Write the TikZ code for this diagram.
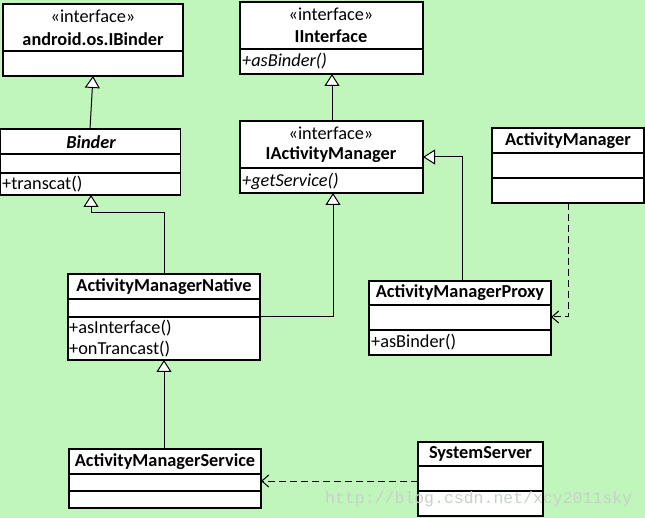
\documentclass[tikz,border=0pt]{standalone}
\usepackage{fontspec}
\setmainfont{Carlito}
\newfontfamily\wmfont{Liberation Mono}
\usetikzlibrary{arrows.meta,calc}
\definecolor{bgc}{RGB}{192,246,188}
\definecolor{wmc}{RGB}{198,210,198}
\begin{document}
\begin{tikzpicture}[x=1pt,y=-1pt,
  cls/.style={draw=black, fill=white, line width=1.1pt, anchor=north west, inner sep=0pt, outer sep=0pt},
  sepline/.style={line width=1.1pt},
  txt/.style={inner sep=0pt, font=\fontsize{18.3}{20}\selectfont},
  nm/.style={txt, font=\fontsize{18.3}{20}\selectfont\bfseries},
  mem/.style={txt, anchor=west},
  conn/.style={line width=1pt},
  gen/.style={conn, -{Triangle[length=12pt,width=15pt,fill=white]}},
  dep/.style={conn, dash pattern=on 7pt off 4pt, -{Straight Barb[length=7pt,width=12pt]}}
]
\fill[bgc] (0,0) rectangle (645,518);
\useasboundingbox (0,0) rectangle (645,518);

% android.os.IBinder
\node[cls, minimum width=180pt, minimum height=72pt] (ib) at (3,4) {};
\draw[sepline] (3,51) -- (183,51);
\node[txt] (ibs) at (93,16) {«interface»};
\node[nm] (ibn) at (93,39) {android.os.IBinder};

% IInterface
\node[cls, minimum width=183pt, minimum height=72pt] (ii) at (240,2) {};
\draw[sepline] (240,49) -- (423,49);
\node[txt] (iis) at (331,14) {«interface»};
\node[nm] (iin) at (331,36) {IInterface};
\node[mem] (iim) at (242,61) {\itshape +asBinder()};

% Binder
\node[cls, minimum width=180pt, minimum height=66pt] (bi) at (0.6,129) {};
\draw[sepline] (0.6,154) -- (180.6,154);
\draw[sepline] (0.6,173) -- (180.6,173);
\node[nm] (bin) at (91,142) {\itshape Binder};
\node[mem] (bim) at (2,184) {+transcat()};

% IActivityManager
\node[cls, minimum width=183pt, minimum height=72pt] (iam) at (240,121) {};
\draw[sepline] (240,168) -- (423,168);
\node[txt] (iams) at (331,133) {«interface»};
\node[nm] (iamn) at (331,155) {IActivityManager};
\node[mem] (iamm) at (242,181) {\itshape +getService()};

% ActivityManager
\node[cls, minimum width=152pt, minimum height=75pt] (am) at (492,128) {};
\draw[sepline] (492,153) -- (644,153);
\draw[sepline] (492,178) -- (644,178);
\node[nm] (amn) at (568,141) {ActivityManager};

% ActivityManagerNative
\node[cls, minimum width=192pt, minimum height=86pt] (amnat) at (68,274) {};
\draw[sepline] (68,299) -- (260,299);
\draw[sepline] (68,317) -- (260,317);
\node[nm] (amnatn) at (164,287) {ActivityManagerNative};
\node[mem] (amnatm1) at (69,328) {+asInterface()};
\node[mem] (amnatm2) at (69,349) {+onTrancast()};

% ActivityManagerProxy
\node[cls, minimum width=182pt, minimum height=74pt] (amp) at (369,281) {};
\draw[sepline] (369,305) -- (551,305);
\draw[sepline] (369,330) -- (551,330);
\node[nm] (ampn) at (460,293) {ActivityManagerProxy};
\node[mem] (ampm) at (371,342) {+asBinder()};

% ActivityManagerService
\node[cls, minimum width=192pt, minimum height=59pt] (ams) at (69,449) {};
\draw[sepline] (69,474) -- (261,474);
\draw[sepline] (69,491) -- (261,491);
\node[nm] (amsn) at (165,462) {ActivityManagerService};

% SystemServer
\node[cls, minimum width=125pt, minimum height=74pt] (ss) at (418,442) {};
\draw[sepline] (418,466) -- (543,466);
\draw[sepline] (418,491) -- (543,491);
\node[nm] (ssn) at (480.5,454) {SystemServer};

% bend points
\coordinate (b1) at (164,213);
\coordinate (b2) at (91,213);
\coordinate (b3) at (333,317);
\coordinate (b4) at (462,157);
\coordinate (b5) at (568,317);

% connectors
\draw[gen] (bi.north -| 90,0) -- (ib.south -| 93,0);
\draw[gen] (amnat.north -| b1) -- (b1) -- (b2) -- (bi.south -| b2);
\draw[gen] (amnat.east |- b3) -- (b3) -- (iam.south -| b3);
\draw[gen] (iam.north -| 332,0) -- (ii.south -| 332,0);
\draw[gen] (amp.north -| b4) -- (b4) -- (iam.east |- b4);
\draw[dep] (am.south -| b5) -- (b5) -- (amp.east |- b5);
\draw[gen] (ams.north -| 164,0) -- (amnat.south -| 164,0);
\draw[dep] (ss.west |- 0,481) -- (ams.east |- 0,481);

% watermark
\node[inner sep=0pt, anchor=west, text=wmc, font=\wmfont\fontsize{16.5}{18}\selectfont] (wm) at (325,499) {http://blog.csdn.net/xcy2011sky};
\end{tikzpicture}
\end{document}
